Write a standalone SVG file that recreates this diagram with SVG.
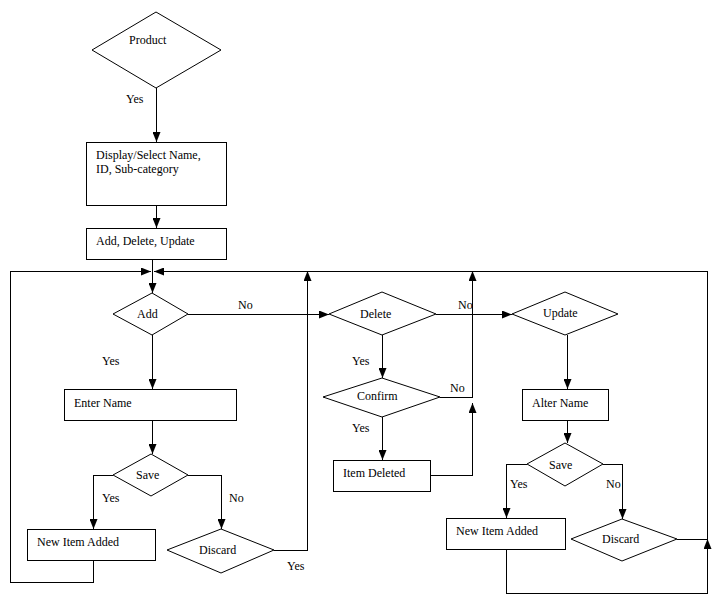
<svg xmlns="http://www.w3.org/2000/svg" width="719" height="602" viewBox="0 0 719 602">
<defs>
<marker id="arr" markerUnits="userSpaceOnUse" markerWidth="10" markerHeight="8" refX="10" refY="4" orient="auto">
<path d="M0,0 L10,4 L0,8 z" fill="#000"/>
</marker>
<style>
.shape{fill:#fff;stroke:#000;stroke-width:1}
.conn{fill:none;stroke:#000;stroke-width:1;shape-rendering:crispEdges}
.arrow{marker-end:url(#arr)}
text{font-family:"Liberation Serif","Times New Roman",serif;font-size:12px;fill:#000}
</style>
</defs>
<rect width="719" height="602" fill="#fff"/>
<g id="connectors">
<polyline class="conn arrow" points="156.5,88 156.5,142"/>
<polyline class="conn arrow" points="156.5,206 156.5,228"/>
<polyline class="conn arrow" points="152.5,260 152.5,293"/>
<polyline class="conn arrow" points="93.5,561 93.5,582.5 10.5,582.5 10.5,271.5 151,271.5"/>
<polyline class="conn arrow" points="274,550.5 307.5,550.5 307.5,271"/>
<polyline class="conn arrow" points="677,539.5 707.5,539.5 707.5,271.5 154,271.5"/>
<polyline class="conn arrow" points="188,314.5 329,314.5"/>
<polyline class="conn arrow" points="436,314.5 512,314.5"/>
<polyline class="conn arrow" points="152.5,335 152.5,389"/>
<polyline class="conn arrow" points="152.5,421 152.5,454"/>
<polyline class="conn arrow" points="113,475.5 93.5,475.5 93.5,529"/>
<polyline class="conn arrow" points="188,475.5 221.5,475.5 221.5,529"/>
<polyline class="conn arrow" points="382.5,335 382.5,378"/>
<polyline class="conn arrow" points="382.5,417 382.5,460"/>
<polyline class="conn arrow" points="440,397.5 472.5,397.5 472.5,271"/>
<polyline class="conn arrow" points="430,475.5 472.5,475.5 472.5,403"/>
<polyline class="conn arrow" points="567.5,335 567.5,389"/>
<polyline class="conn arrow" points="567.5,421 567.5,443"/>
<polyline class="conn arrow" points="527,464.5 506.5,464.5 506.5,518"/>
<polyline class="conn arrow" points="603,464.5 622.5,464.5 622.5,519"/>
<polyline class="conn arrow" points="506.5,550 506.5,593.5 707.5,593.5 707.5,539"/>
<text x="126" y="103">Yes</text>
<text x="238" y="309">No</text>
<text x="102" y="365">Yes</text>
<text x="102" y="502">Yes</text>
<text x="229" y="502">No</text>
<text x="287" y="570">Yes</text>
<text x="458" y="309">No</text>
<text x="352" y="365">Yes</text>
<text x="450" y="392">No</text>
<text x="352" y="432">Yes</text>
<text x="510" y="488">Yes</text>
<text x="606" y="488">No</text>
</g>
<g id="product"><polygon class="shape" points="92,50 156,12 221,50 156,88"/><text x="129" y="44">Product</text></g>
<g id="display"><rect class="shape" x="86.5" y="142.5" width="140" height="63"/><text x="96" y="159">Display/Select Name,</text><text x="96" y="173">ID, Sub-category</text></g>
<g id="add-delete-update"><rect class="shape" x="86.5" y="228.5" width="140" height="31"/><text x="96" y="245">Add, Delete, Update</text></g>
<g id="add"><polygon class="shape" points="113,314 152,293 188,314 152,335"/><text x="137" y="318">Add</text></g>
<g id="enter-name"><rect class="shape" x="64.5" y="389.5" width="172" height="31"/><text x="74" y="407">Enter Name</text></g>
<g id="save1"><polygon class="shape" points="113,475 151,454 188,475 151,496"/><text x="136" y="479">Save</text></g>
<g id="new-item-added1"><rect class="shape" x="27.5" y="529.5" width="128" height="31"/><text x="37" y="546">New Item Added</text></g>
<g id="discard1"><polygon class="shape" points="167,550 221,529 274,550 221,573"/><text x="199" y="554">Discard</text></g>
<g id="delete"><polygon class="shape" points="329,314 382,292 436,314 382,335"/><text x="360" y="318">Delete</text></g>
<g id="confirm"><polygon class="shape" points="323,397 382,378 440,397 382,417"/><text x="357" y="400">Confirm</text></g>
<g id="item-deleted"><rect class="shape" x="333.5" y="460.5" width="97" height="31"/><text x="343" y="477">Item Deleted</text></g>
<g id="update"><polygon class="shape" points="512,314 565,292 618,314 565,335"/><text x="543" y="317">Update</text></g>
<g id="alter-name"><rect class="shape" x="522.5" y="389.5" width="86" height="31"/><text x="532" y="407">Alter Name</text></g>
<g id="save2"><polygon class="shape" points="527,464 565,443 603,464 565,486"/><text x="549" y="469">Save</text></g>
<g id="new-item-added2"><rect class="shape" x="446.5" y="518.5" width="119" height="31"/><text x="456" y="535">New Item Added</text></g>
<g id="discard2"><polygon class="shape" points="571,539 622,519 677,539 622,561"/><text x="602" y="543">Discard</text></g>
</svg>
